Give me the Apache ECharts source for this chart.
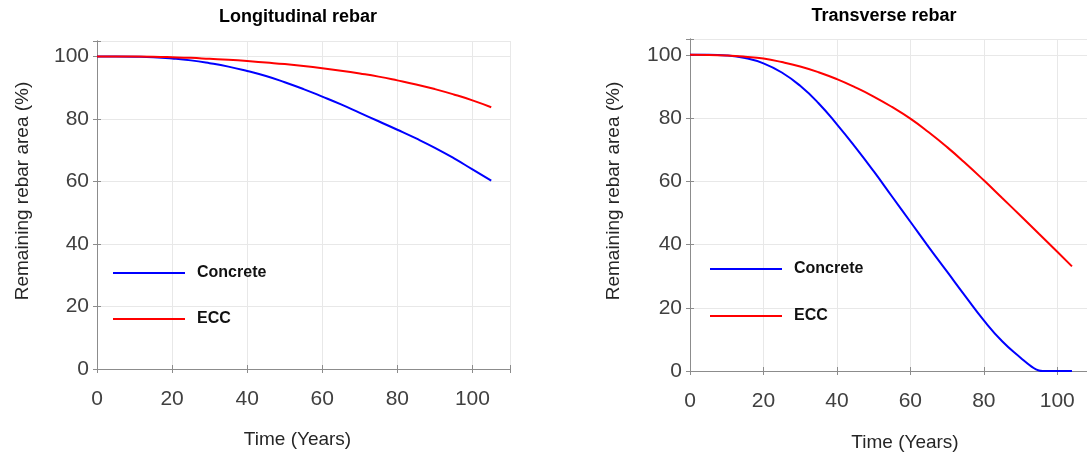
<!DOCTYPE html>
<html>
<head>
<meta charset="utf-8">
<title>Remaining rebar area</title>
<script src="https://cdn.jsdelivr.net/npm/echarts@6/dist/echarts.min.js"></script>
<style>
  html, body { margin: 0; padding: 0; background: #fff; }
  #chart { width: 1087px; height: 454px; }
</style>
</head>
<body>
<div id="chart"></div>
<script>
  // longitudinal rebar (left panel)
  var yearsLong = [0, 5, 10, 15, 20, 25, 30, 35, 40, 45, 50, 55, 60, 65, 70, 75, 80, 85, 90, 95, 100, 105];
  var concreteLong = [100, 100, 99.95, 99.8, 99.4, 98.8, 97.9, 96.8, 95.4, 93.8, 91.8, 89.6, 87.2, 84.7, 82.0, 79.3, 76.6, 73.8, 70.8, 67.5, 63.9, 60.3];
  var eccLong = [100, 100, 100, 99.95, 99.8, 99.6, 99.3, 99.0, 98.6, 98.1, 97.6, 97.0, 96.3, 95.5, 94.6, 93.6, 92.4, 91.1, 89.6, 87.9, 86.0, 83.8];

  // transverse rebar (right panel)
  var yearsTransConcrete = [0, 5, 10, 15, 20, 25, 30, 35, 40, 45, 50, 55, 60, 65, 70, 75, 80, 85, 90, 93, 95, 96, 100, 104];
  var concreteTrans = [100, 100, 99.8, 99.0, 97.3, 94.4, 90.2, 84.7, 78.0, 70.8, 63.2, 55.2, 47.2, 39.2, 31.4, 23.6, 16.0, 9.4, 4.2, 1.4, 0.15, 0, 0, 0];
  var yearsTransEcc = [0, 5, 10, 15, 20, 25, 30, 35, 40, 45, 50, 55, 60, 65, 70, 75, 80, 85, 90, 95, 100, 104];
  var eccTrans = [100, 99.97, 99.8, 99.4, 98.8, 97.7, 96.3, 94.5, 92.3, 89.7, 86.8, 83.5, 79.8, 75.5, 70.8, 65.7, 60.3, 54.7, 49.1, 43.4, 37.7, 33.1];

  var xTicks = [0, 20, 40, 60, 80, 100];
  var yTicks = [0, 20, 40, 60, 80, 100];

  var axisColor = '#8c8c8c';
  var gridColor = '#e8e8e8';
  var labelFont = 'Liberation Sans, Arial, sans-serif';

  function zip(xs, ys) {
    return xs.map(function (x, i) { return [x, ys[i]]; });
  }

  function tickLabel(list) {
    return function (v) { return list.indexOf(v) >= 0 ? String(v) : ''; };
  }

  // main x axis (bottom) + box edge (top)
  function xAxes(gridIndex, nameGap, namePad) {
    return [{
      type: 'value', gridIndex: gridIndex, min: 0, max: 110, interval: 20,
      name: 'Time (Years)', nameLocation: 'middle', nameGap: nameGap,
      nameTextStyle: { fontFamily: labelFont, fontSize: 19, color: '#262626', padding: namePad },
      axisLine: { lineStyle: { color: axisColor, width: 1 } },
      axisTick: { inside: true, length: 4, lineStyle: { color: axisColor } },
      axisLabel: { margin: 20, fontFamily: labelFont, fontSize: 21, color: '#404040', formatter: tickLabel(xTicks) },
      splitLine: { show: true, lineStyle: { color: gridColor } }
    }, {
      type: 'value', gridIndex: gridIndex, position: 'top', min: 0, max: 110, interval: 20,
      axisLine: { show: true, lineStyle: { color: axisColor } },
      axisTick: { inside: true, length: 4, lineStyle: { color: axisColor } },
      axisLabel: { show: false },
      splitLine: { show: false }
    }];
  }

  function yAxes(gridIndex, nameGap) {
    return [{
      type: 'value', gridIndex: gridIndex, min: 0, max: 105, interval: 20,
      name: 'Remaining rebar area (%)', nameLocation: 'middle', nameGap: nameGap,
      nameTextStyle: { fontFamily: labelFont, fontSize: 19, color: '#262626', padding: [0, 0, 0, 28] },
      axisLine: { show: true, lineStyle: { color: axisColor } },
      axisTick: { show: true, inside: true, length: 4, lineStyle: { color: axisColor } },
      axisLabel: { margin: 8, fontFamily: labelFont, fontSize: 21, color: '#404040', formatter: tickLabel(yTicks) },
      splitLine: { show: true, lineStyle: { color: gridColor } }
    }, {
      type: 'value', gridIndex: gridIndex, position: 'right', min: 0, max: 105, interval: 20,
      axisLine: { show: true, lineStyle: { color: axisColor } },
      axisTick: { show: true, inside: true, length: 4, lineStyle: { color: axisColor } },
      axisLabel: { show: false },
      splitLine: { show: false }
    }];
  }

  function curve(name, color, idx, data) {
    return {
      name: name, type: 'line', xAxisIndex: idx * 2, yAxisIndex: idx * 2,
      data: data, smooth: 0.5, symbol: 'none',
      lineStyle: { color: color, width: 2 }, itemStyle: { color: color }
    };
  }

  function legendAt(left, top, gap) {
    return {
      orient: 'vertical', left: left, top: top, itemGap: gap,
      itemWidth: 72, itemHeight: 2, icon: 'rect', selectedMode: false,
      data: ['Concrete', 'ECC'],
      textStyle: { fontFamily: labelFont, fontSize: 16, fontWeight: 'bold', color: '#111', padding: [0, 0, 0, 7] }
    };
  }

  var chart = echarts.init(document.getElementById('chart'), null, { renderer: 'canvas' });

  chart.setOption({
    animation: false,
    backgroundColor: '#fff',
    title: [{
      text: 'Longitudinal rebar', left: 298, top: 8, textAlign: 'center', padding: 0,
      textStyle: { fontFamily: labelFont, fontSize: 18, fontWeight: 'bold', color: '#000' }
    }, {
      text: 'Transverse rebar', left: 884, top: 7, textAlign: 'center', padding: 0,
      textStyle: { fontFamily: labelFont, fontSize: 18, fontWeight: 'bold', color: '#000' }
    }],
    grid: [
      { left: 97, top: 41, width: 413, bottom: 85, outerBoundsMode: 'none' },
      { left: 690, top: 39, width: 404, bottom: 83, outerBoundsMode: 'none' }
    ],
    legend: [legendAt(108, 260, 30), legendAt(705, 256, 31)],
    xAxis: xAxes(0, 61, [0, 12, 0, 0]).concat(xAxes(1, 62, [0, 0, 0, 26])),
    yAxis: yAxes(0, 65).concat(yAxes(1, 67)),
    series: [
      curve('Concrete', '#0000ff', 0, zip(yearsLong, concreteLong)),
      curve('ECC', '#ff0000', 0, zip(yearsLong, eccLong)),
      curve('Concrete', '#0000ff', 1, zip(yearsTransConcrete, concreteTrans)),
      curve('ECC', '#ff0000', 1, zip(yearsTransEcc, eccTrans))
    ]
  });

  window.addEventListener('resize', function () { chart.resize(); });
</script>
</body>
</html>
